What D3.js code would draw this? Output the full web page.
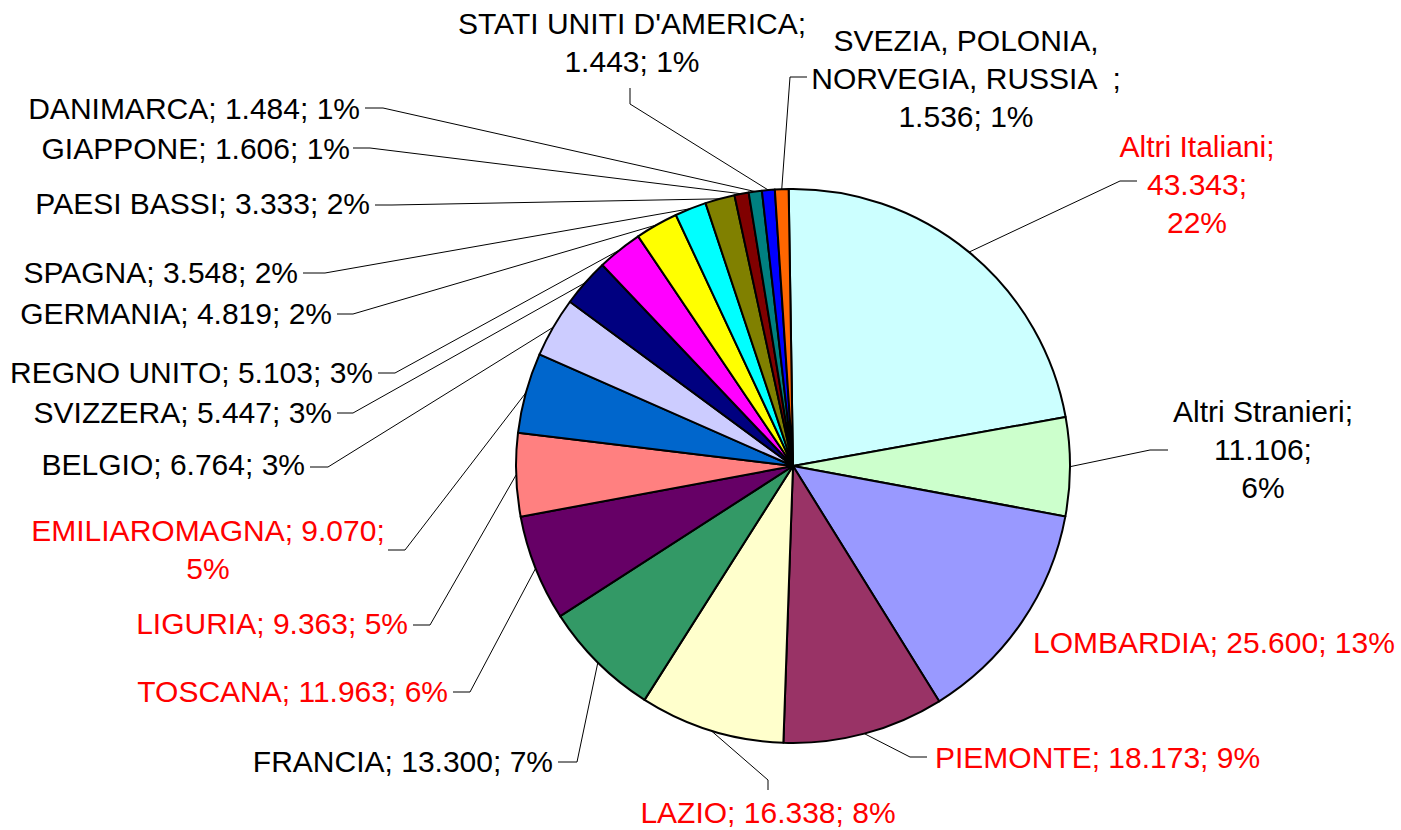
<!DOCTYPE html>
<html>
<head>
<meta charset="utf-8">
<script src="https://cdn.jsdelivr.net/npm/d3@7"></script>
<style>
  body { margin: 0; background: #fff; }
  text { font-family: "Liberation Sans", Arial, sans-serif; font-size: 30px; white-space: pre; }
</style>
</head>
<body>
<div id="chart"></div>
<script>
var chart_props = {
  width : 1401,
  height : 830,
  cx : 793,
  cy : 466,
  radius : 277,
  rotation : -0.9 // degrees
}

// provenienza: categorie e valori
var categories = ["Altri Italiani", "Altri Stranieri", "LOMBARDIA", "PIEMONTE", "LAZIO", "FRANCIA",
  "TOSCANA", "LIGURIA", "EMILIAROMAGNA", "BELGIO", "SVIZZERA", "REGNO UNITO", "GERMANIA", "SPAGNA",
  "PAESI BASSI", "GIAPPONE", "DANIMARCA", "STATI UNITI D'AMERICA", "SVEZIA, POLONIA,\nNORVEGIA, RUSSIA  "];
var values = [43343, 11106, 25600, 18173, 16338, 13300, 11963, 9363, 9070, 6764, 5447, 5103, 4819,
  3548, 3333, 1606, 1484, 1443, 1536];
var italian = [true, false, true, true, true, false, true, true, true, false, false, false, false,
  false, false, false, false, false, false];

var sliceColors = ["#CCFFFF", "#CCFFCC", "#9999FF", "#993366", "#FFFFCC", "#339966", "#660066",
  "#FF8080", "#0066CC", "#CCCCFF", "#000080", "#FF00FF", "#FFFF00", "#00FFFF", "#808000",
  "#800000", "#008080", "#0000FF", "#FF6600"];

// label placement: anchor, text x, first baseline, line grouping, leader elbow and stub end
var labelLayout = [
  {anchor:"middle", x:1197, y:157, group:[1,1,1], elbow:[1120,181], stub:[1137,181]},
  {anchor:"middle", x:1263, y:422, group:[1,1,1], elbow:[1150,450], stub:[1168,450]},
  {anchor:"start",  x:1033, y:653, group:[3], elbow:null, stub:null},
  {anchor:"start",  x:935,  y:768, group:[3], elbow:[910,757], stub:[927,757]},
  {anchor:"middle", x:768,  y:823, group:[3], elbow:[768,780], stub:[768,790]},
  {anchor:"end",    x:553,  y:772, group:[3], elbow:[577,762], stub:[558,762]},
  {anchor:"end",    x:448,  y:702, group:[3], elbow:[470,692], stub:[453,692]},
  {anchor:"end",    x:408,  y:634, group:[3], elbow:[430,625], stub:[413,625]},
  {anchor:"middle", x:208,  y:541, group:[2,1], elbow:[405,550], stub:[388,550]},
  {anchor:"end",    x:305,  y:475, group:[3], elbow:[328,467], stub:[310,467]},
  {anchor:"end",    x:332,  y:423, group:[3], elbow:[353,413], stub:[337,413]},
  {anchor:"end",    x:373,  y:383, group:[3], elbow:[395,373], stub:[378,373]},
  {anchor:"end",    x:332,  y:324, group:[3], elbow:[353,314], stub:[337,314]},
  {anchor:"end",    x:298,  y:283, group:[3], elbow:[325,273], stub:[303,273]},
  {anchor:"end",    x:370,  y:214, group:[3], elbow:[392,205], stub:[375,205]},
  {anchor:"end",    x:350,  y:159, group:[3], elbow:[370,148], stub:[353,148]},
  {anchor:"end",    x:360,  y:119, group:[3], elbow:[383,108], stub:[365,108]},
  {anchor:"middle", x:632,  y:34,  group:[1,2], elbow:[630,104], stub:[630,88]},
  {anchor:"middle", x:966,  y:51,  group:[1,2], elbow:[790,77],  stub:[807,77]}
];
var lineHeight = 38;

var itLocale = d3.formatLocale({decimal: ",", thousands: ".", grouping: [3], currency: ["€", ""]});
var fmt = itLocale.format(",");

var total = d3.sum(values);
var data = categories.map(function(c, i){
  return {name: c, value: values[i], italian: italian[i], color: sliceColors[i], layout: labelLayout[i]};
});

var svg = d3.select("#chart").append("svg")
  .attr("width", chart_props.width)
  .attr("height", chart_props.height);

var rot = chart_props.rotation * Math.PI / 180;
var pie = d3.pie().sort(null)
  .startAngle(rot).endAngle(2 * Math.PI + rot)
  .value(function(d){ return d.value; });
var arcs = pie(data);

var arc = d3.arc().innerRadius(0).outerRadius(chart_props.radius);

var g = svg.append("g")
  .attr("transform", "translate(" + chart_props.cx + "," + chart_props.cy + ")");

// leader lines
var leaders = svg.append("g").attr("class", "leaders");
leaders.selectAll("path")
  .data(arcs.filter(function(d){ return d.data.layout.elbow; }))
  .enter().append("path")
  .attr("d", function(d){
    var a = (d.startAngle + d.endAngle) / 2;
    var x0 = chart_props.cx + Math.sin(a) * chart_props.radius;
    var y0 = chart_props.cy - Math.cos(a) * chart_props.radius;
    var L = d.data.layout;
    return "M" + x0 + "," + y0 + "L" + L.elbow[0] + "," + L.elbow[1] + "L" + L.stub[0] + "," + L.stub[1];
  })
  .style("fill", "none")
  .style("stroke", "#000")
  .style("stroke-width", 1);

g.selectAll(".slice")
  .data(arcs)
  .enter().append("path")
  .attr("class", "slice")
  .attr("d", arc)
  .style("fill", function(d){ return d.data.color; })
  .style("stroke", "#000")
  .style("stroke-width", 2)
  .style("stroke-linejoin", "round");

// labels
function labelLines(d){
  var pct = Math.round(d.value / total * 100);
  var parts = [d.name + ";", fmt(d.value) + ";", pct + "%"];
  var lines = [], k = 0;
  d.layout.group.forEach(function(n){
    lines.push(parts.slice(k, k + n).join(" "));
    k += n;
  });
  var out = [];
  lines.forEach(function(l){ l.split("\n").forEach(function(s){ out.push(s); }); });
  return out;
}

var labels = svg.append("g").attr("class", "labels")
  .selectAll("text")
  .data(data)
  .enter().append("text")
  .attr("text-anchor", function(d){ return d.layout.anchor; })
  .style("fill", function(d){ return d.italian ? "#FF0000" : "#000"; });

labels.selectAll("tspan")
  .data(function(d){ return labelLines(d).map(function(t){ return {t: t, L: d.layout}; }); })
  .enter().append("tspan")
  .attr("x", function(d){ return d.L.x; })
  .attr("y", function(d, i){ return d.L.y + i * lineHeight; })
  .text(function(d){ return d.t; });
</script>
</body>
</html>
